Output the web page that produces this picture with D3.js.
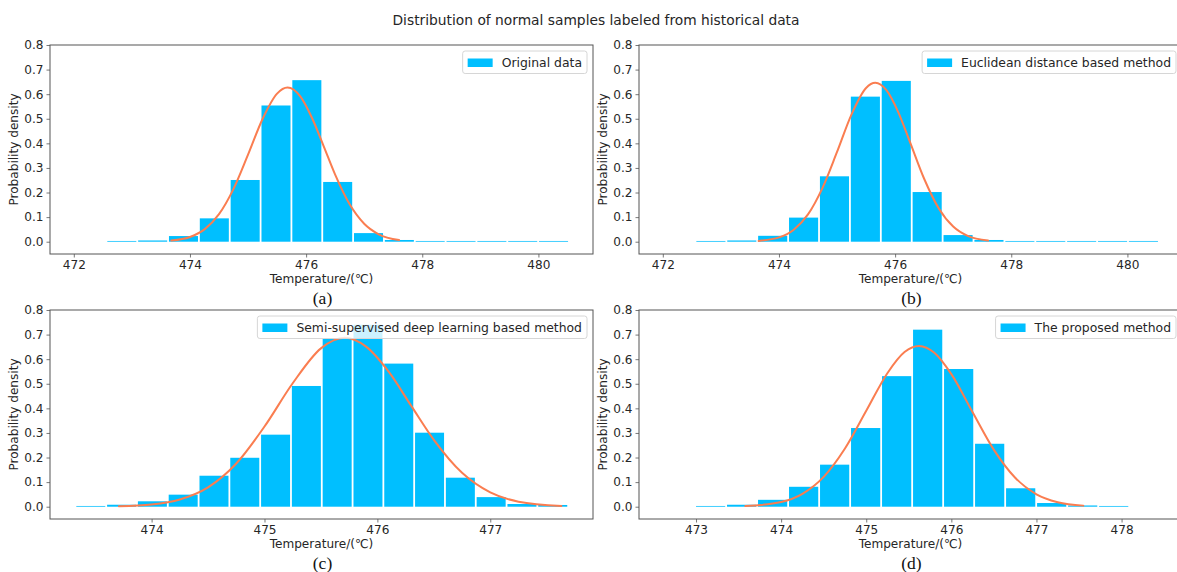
<!DOCTYPE html>
<html>
<head>
<meta charset="utf-8">
<script src="https://cdn.jsdelivr.net/npm/d3@7"></script>
<style>
  html, body { margin: 0; padding: 0; background: #fff; }
  svg { display: block; font-family: "DejaVu Sans", sans-serif; }
</style>
</head>
<body>
<svg id="chart" width="1177" height="572"></svg>
<script>
// ---- data ----------------------------------------------------------------
const figureTitle = "Distribution of normal samples labeled from historical data";
const panelTags = ["(a)", "(b)", "(c)", "(d)"];
const legendLabels = [
  "Original data",
  "Euclidean distance based method",
  "Semi-supervised deep learning based method",
  "The proposed method"
];
const xAxisTitle = "Temperature/(\u2103)";
const yAxisTitle = "Probability density";

// histogram densities (one value per bin), bin start and bin width
const densityA = [0, 0.003, 0.005, 0.023, 0.095, 0.251, 0.554, 0.657, 0.243, 0.035, 0.007, 0.003, 0.003, 0.003, 0.003, 0.003];
const binStartA = 472.03, binWidthA = 0.531;
const densityB = [0, 0.003, 0.005, 0.024, 0.098, 0.266, 0.590, 0.654, 0.202, 0.027, 0.007, 0.003, 0.003, 0.003, 0.003, 0.003];
const binStartB = 472.03, binWidthB = 0.532;
const densityC = [0.003, 0.008, 0.022, 0.049, 0.126, 0.199, 0.293, 0.491, 0.684, 0.740, 0.582, 0.301, 0.118, 0.039, 0.011, 0.007];
const binStartC = 473.325, binWidthC = 0.2728;
const densityD = [0, 0.003, 0.008, 0.028, 0.081, 0.171, 0.320, 0.531, 0.720, 0.560, 0.256, 0.075, 0.015, 0.005, 0.003, 0];
const binStartD = 472.625, binWidthD = 0.3643;

// fitted normal density curves (temperature, density)
const fitXA = [473.68, 474.0, 474.25, 474.5, 474.75, 475.0, 475.25, 475.5, 475.68, 475.9, 476.1, 476.3, 476.5, 476.75, 477.0, 477.25, 477.6];
const fitYA = [0.0045, 0.0191, 0.0501, 0.112, 0.215, 0.354, 0.499, 0.602, 0.627, 0.591, 0.504, 0.390, 0.273, 0.152, 0.073, 0.030, 0.0066];
const fitXB = [473.65, 474.0, 474.25, 474.5, 474.75, 475.0, 475.25, 475.5, 475.66, 475.85, 476.05, 476.25, 476.5, 476.75, 477.0, 477.25, 477.6];
const fitYB = [0.0033, 0.0175, 0.0479, 0.111, 0.219, 0.365, 0.518, 0.625, 0.646, 0.616, 0.529, 0.409, 0.256, 0.136, 0.0616, 0.0236, 0.0047];
const fitXC = [473.71, 474.0, 474.25, 474.5, 474.75, 475.0, 475.25, 475.5, 475.71, 475.9, 476.1, 476.3, 476.5, 476.75, 477.0, 477.25, 477.63];
const fitYC = [0.0018, 0.0090, 0.0293, 0.0785, 0.1755, 0.326, 0.502, 0.644, 0.687, 0.651, 0.549, 0.410, 0.272, 0.138, 0.0584, 0.0205, 0.0029];
const fitXD = [473.58, 474.0, 474.25, 474.5, 474.75, 475.0, 475.25, 475.45, 475.62, 475.8, 476.0, 476.25, 476.5, 476.75, 477.0, 477.25, 477.55];
const fitYD = [0.0024, 0.0192, 0.0525, 0.1213, 0.2366, 0.390, 0.544, 0.629, 0.654, 0.626, 0.539, 0.384, 0.231, 0.1175, 0.0506, 0.0184, 0.0044];

// axis ticks and limits
const xTicksAB = [472, 474, 476, 478, 480];
const xTicksC = [474, 475, 476, 477];
const xTicksD = [473, 474, 475, 476, 477, 478];
const yTicks = [0, 0.1, 0.2, 0.3, 0.4, 0.5, 0.6, 0.7, 0.8];
const xLimA = [471.59, 480.94];
const xLimB = [471.59, 480.94];
const xLimC = [473.10, 477.91];
const xLimD = [472.33, 478.71];
const yLim = [-0.05, 0.8];

// ---- layout ----------------------------------------------------------------
const PW = 543, PH = 209;
const BAR = "#00bfff", FIT = "#fa7d50", SPINE = "#555", TEXT = "#262626";
const FS = 12.1, LEG_FS = 12.4;

const panels = [
  { left: 50,  top: 45,  density: densityA, start: binStartA, width: binWidthA, fx: fitXA, fy: fitYA, ticks: xTicksAB, xlim: xLimA },
  { left: 639, top: 45,  density: densityB, start: binStartB, width: binWidthB, fx: fitXB, fy: fitYB, ticks: xTicksAB, xlim: xLimB },
  { left: 50,  top: 310, density: densityC, start: binStartC, width: binWidthC, fx: fitXC, fy: fitYC, ticks: xTicksC, xlim: xLimC },
  { left: 639, top: 310, density: densityD, start: binStartD, width: binWidthD, fx: fitXD, fy: fitYD, ticks: xTicksD, xlim: xLimD }
];

const svg = d3.select("#chart");

svg.append("text")
  .attr("x", 596).attr("y", 24.5)
  .attr("text-anchor", "middle")
  .attr("font-size", 13.8)
  .attr("fill", TEXT)
  .text(figureTitle);

panels.forEach((p, i) => {
  const g = svg.append("g").attr("transform", `translate(${p.left},${p.top})`);
  const x = d3.scaleLinear().domain(p.xlim).range([0, PW]);
  const y = d3.scaleLinear().domain(yLim).range([PH, 0]);

  // histogram bars (white edges leave a small gap between bins)
  const bins = p.density.map((v, k) => ({ x0: p.start + k * p.width, x1: p.start + (k + 1) * p.width, v }));
  g.append("g").selectAll("rect")
    .data(bins)
    .join("rect")
    .attr("x", d => x(d.x0) + 0.9)
    .attr("width", d => x(d.x1) - x(d.x0) - 1.8)
    .attr("y", d => y(d.v))
    .attr("height", d => y(0) - y(d.v))
    .attr("fill", BAR);

  // fitted density
  const pts = p.fx.map((t, k) => [t, p.fy[k]]);
  g.append("path")
    .datum(pts)
    .attr("fill", "none")
    .attr("stroke", FIT)
    .attr("stroke-width", 2)
    .attr("stroke-linecap", "round")
    .attr("d", d3.line().x(d => x(d[0])).y(d => y(d[1])).curve(d3.curveMonotoneX));

  // axes
  const xAxis = g.append("g")
    .attr("transform", `translate(0,${PH})`)
    .call(d3.axisBottom(x).tickValues(p.ticks).tickFormat(d3.format("d")).tickSize(3.5).tickPadding(3));
  const yAxis = g.append("g")
    .call(d3.axisLeft(y).tickValues(yTicks).tickFormat(d3.format(".1f")).tickSize(3.5).tickPadding(3));
  [xAxis, yAxis].forEach(a => {
    a.select(".domain").remove();
    a.selectAll(".tick line").attr("stroke", SPINE).attr("stroke-width", 0.8);
    a.selectAll(".tick text").attr("fill", TEXT).attr("font-size", FS).attr("font-family", "DejaVu Sans");
  });

  // frame
  g.append("rect")
    .attr("x", 0).attr("y", 0).attr("width", PW).attr("height", PH)
    .attr("fill", "none").attr("stroke", SPINE).attr("stroke-width", 1);

  // axis titles
  g.append("text")
    .attr("x", PW / 2).attr("y", PH + 29)
    .attr("text-anchor", "middle").attr("font-size", FS).attr("fill", TEXT)
    .text(xAxisTitle);
  g.append("text")
    .attr("transform", `translate(${-32},${PH / 2}) rotate(-90)`)
    .attr("text-anchor", "middle").attr("font-size", FS).attr("fill", TEXT)
    .text(yAxisTitle);

  // panel tag
  g.append("text")
    .attr("x", PW / 2 + 1).attr("y", PH + 50)
    .attr("text-anchor", "middle")
    .attr("font-family", "Liberation Serif, serif")
    .attr("font-size", 17.5).attr("fill", "#111")
    .text(panelTags[i]);

  // legend (upper right)
  const lg = g.append("g");
  const box = lg.append("rect");
  const label = lg.append("text")
    .attr("font-size", LEG_FS).attr("fill", TEXT)
    .text(legendLabels[i]);
  const tw = label.node().getComputedTextLength();
  const lw = 5 + 25 + 9 + tw + 5, lh = 22.5;
  const lx = PW - 6 - lw, ly = 6;
  box.attr("x", lx).attr("y", ly).attr("width", lw).attr("height", lh)
    .attr("rx", 2.5)
    .attr("fill", "#fff").attr("fill-opacity", 0.8)
    .attr("stroke", "#d6d6d6").attr("stroke-width", 1);
  lg.append("rect")
    .attr("x", lx + 5).attr("y", ly + 7.5).attr("width", 25).attr("height", 8.5)
    .attr("fill", BAR);
  label.attr("x", lx + 5 + 25 + 9).attr("y", ly + 16).raise();
});
</script>
</body>
</html>
